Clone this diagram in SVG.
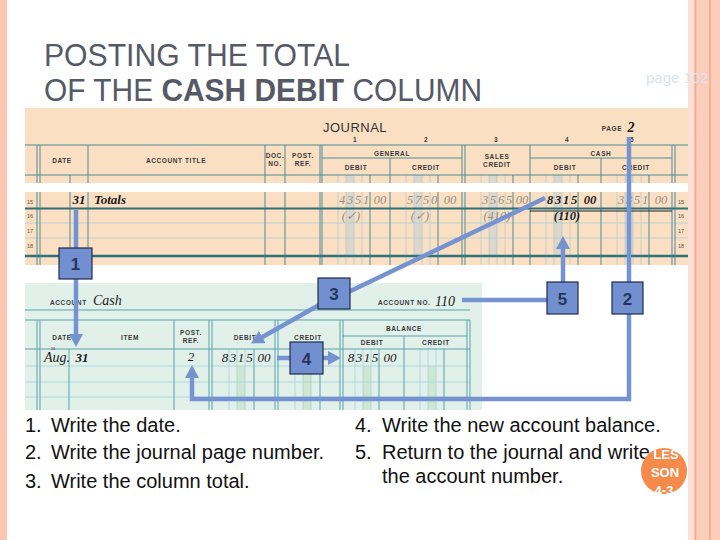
<svg xmlns="http://www.w3.org/2000/svg" width="720" height="540" viewBox="0 0 720 540">
<style>
.hd{font-family:"Liberation Sans",Arial,sans-serif;font-size:6.5px;font-weight:bold;letter-spacing:0.6px;fill:#3a3a3a;text-anchor:middle}
.sm{font-family:"Liberation Sans",Arial,sans-serif;font-size:5.5px;fill:#555;text-anchor:middle}
.fa{font-family:"Liberation Serif","DejaVu Serif",serif;font-style:italic;font-size:12.5px;fill:#9a8f80;text-anchor:middle}
.bk{font-family:"Liberation Serif","DejaVu Serif",serif;font-style:italic;font-weight:bold;font-size:12.5px;fill:#1b1b1b;text-anchor:middle}
.lt{font-family:"Liberation Serif","DejaVu Serif",serif;font-style:italic;font-size:13px;fill:#1b1b1b;text-anchor:middle}
.jl{stroke:#4d8c95;stroke-width:1}
.jg{stroke:#a9cfd4;stroke-width:0.8}
.ll{stroke:#5aa2ab;stroke-width:1}
.lg{stroke:#a3d3dc;stroke-width:0.8}
.con{fill:none;stroke:#7693D1;stroke-width:4.5}
.box rect{fill:#7290CF;stroke:#1f2c48;stroke-width:1.2}
.box text{font-family:"Liberation Sans",Arial,sans-serif;font-weight:bold;font-size:17px;fill:#26365a;text-anchor:middle}
.body{font-family:"Liberation Sans",Arial,sans-serif;font-size:20px;fill:#111}
.ttl{font-family:"Liberation Sans",Arial,sans-serif;font-size:32px;fill:#555a66}
</style>
<defs>
<marker id="ah" markerUnits="userSpaceOnUse" markerWidth="16" markerHeight="16" refX="5" refY="7" orient="auto">
<path d="M0,0 L13,7 L0,14 z" fill="#7693D1"/>
</marker>
</defs>
<rect width="720" height="540" fill="#ffffff"/>
<g id="frame">
<rect x="0" y="0" width="7" height="540" fill="#F8C6B3"/>
<rect x="688" y="0" width="32" height="540" fill="#FBCDBB"/>
<rect x="688" y="0" width="6" height="540" fill="#FCE0D5"/>
<line x1="695.5" y1="0" x2="695.5" y2="540" stroke="#F2A78B" stroke-width="1.5"/>
<line x1="710" y1="0" x2="710" y2="540" stroke="#F2A78B" stroke-width="1.5"/>
</g>
<g id="title">
<text class="ttl" x="44" y="66" textLength="306" lengthAdjust="spacingAndGlyphs">POSTING THE TOTAL</text>
<text class="ttl" x="44" y="101" textLength="438" lengthAdjust="spacingAndGlyphs">OF THE <tspan font-weight="bold">CASH DEBIT</tspan> COLUMN</text>
<text x="646" y="83" font-family="Liberation Sans,Arial,sans-serif" font-size="15" fill="#D8E4F0">page 102</text>
</g>
<g id="journal">
<rect x="25" y="108" width="663" height="157" fill="#FADFC3"/>
<g fill="#DCD6CB">
<rect x="346" y="175" width="8" height="81"/><rect x="414" y="175" width="8" height="81"/><rect x="489" y="175" width="8" height="81"/><rect x="554" y="175" width="8" height="81"/><rect x="625" y="175" width="8" height="81"/>
</g>
<g class="jg">
<line x1="338" y1="175" x2="338" y2="265"/><line x1="346" y1="175" x2="346" y2="265"/><line x1="354" y1="175" x2="354" y2="265"/><line x1="362" y1="175" x2="362" y2="265"/>
<line x1="406" y1="175" x2="406" y2="265"/><line x1="414" y1="175" x2="414" y2="265"/><line x1="422" y1="175" x2="422" y2="265"/><line x1="430" y1="175" x2="430" y2="265"/>
<line x1="481" y1="175" x2="481" y2="265"/><line x1="489" y1="175" x2="489" y2="265"/><line x1="497" y1="175" x2="497" y2="265"/><line x1="505" y1="175" x2="505" y2="265"/>
<line x1="546" y1="175" x2="546" y2="265"/><line x1="554" y1="175" x2="554" y2="265"/><line x1="562" y1="175" x2="562" y2="265"/><line x1="570" y1="175" x2="570" y2="265"/>
<line x1="617" y1="175" x2="617" y2="265"/><line x1="625" y1="175" x2="625" y2="265"/><line x1="633" y1="175" x2="633" y2="265"/><line x1="641" y1="175" x2="641" y2="265"/>
<line x1="25" y1="223" x2="688" y2="223"/><line x1="25" y1="238" x2="688" y2="238"/>
</g>
<g class="jl">
<line x1="25" y1="145" x2="688" y2="145"/><line x1="25" y1="175" x2="688" y2="175"/>
<line x1="322" y1="158" x2="462" y2="158"/><line x1="530" y1="158" x2="672" y2="158"/>
<line x1="37" y1="145" x2="37" y2="265"/><line x1="40" y1="145" x2="40" y2="265"/><line x1="88" y1="145" x2="88" y2="265"/>
<line x1="70" y1="175" x2="70" y2="265"/>
<line x1="265" y1="145" x2="265" y2="265"/><line x1="285" y1="145" x2="285" y2="265"/>
<line x1="320" y1="145" x2="320" y2="265"/><line x1="322" y1="145" x2="322" y2="265"/>
<line x1="390" y1="158" x2="390" y2="265"/>
<line x1="462" y1="145" x2="462" y2="265"/><line x1="465" y1="145" x2="465" y2="265"/>
<line x1="530" y1="145" x2="530" y2="265"/><line x1="601" y1="158" x2="601" y2="265"/>
<line x1="672" y1="145" x2="672" y2="265"/><line x1="675" y1="145" x2="675" y2="265"/>
<line x1="370" y1="175" x2="370" y2="265"/><line x1="438" y1="175" x2="438" y2="265"/><line x1="513" y1="175" x2="513" y2="265"/><line x1="578" y1="175" x2="578" y2="265"/><line x1="649" y1="175" x2="649" y2="265"/>
</g>
<rect x="25" y="183" width="663" height="9" fill="#ffffff"/>
<line x1="25" y1="208.5" x2="688" y2="208.5" stroke="#2f6f78" stroke-width="2"/>
<line x1="530" y1="211" x2="672" y2="211" stroke="#222" stroke-width="1.2"/>
<line x1="25" y1="256" x2="688" y2="256" stroke="#2f7380" stroke-width="2.5"/>
<text x="355" y="132" font-family="Liberation Sans,Arial,sans-serif" font-size="13" fill="#333" text-anchor="middle" letter-spacing="0.5">JOURNAL</text>
<text class="hd" x="612" y="131">PAGE</text>
<text class="bk" x="631" y="132" style="font-size:14px">2</text>
<text class="hd" x="355" y="142">1</text><text class="hd" x="426" y="142">2</text><text class="hd" x="496" y="142">3</text><text class="hd" x="567" y="142">4</text><text class="hd" x="632" y="142">5</text>
<text class="hd" x="62" y="163">DATE</text>
<text class="hd" x="176" y="163">ACCOUNT TITLE</text>
<text class="hd" x="275" y="158">DOC.</text><text class="hd" x="275" y="166">NO.</text>
<text class="hd" x="303" y="158">POST.</text><text class="hd" x="303" y="166">REF.</text>
<text class="hd" x="392" y="156">GENERAL</text>
<text class="hd" x="356" y="170">DEBIT</text><text class="hd" x="426" y="170">CREDIT</text>
<text class="hd" x="497" y="159">SALES</text><text class="hd" x="497" y="167">CREDIT</text>
<text class="hd" x="601" y="156">CASH</text>
<text class="hd" x="565" y="170">DEBIT</text><text class="hd" x="636" y="170">CREDIT</text>
<text class="sm" x="30" y="204">15</text><text class="sm" x="30" y="218">16</text><text class="sm" x="30" y="233">17</text><text class="sm" x="30" y="248">18</text>
<text class="sm" x="681" y="204">15</text><text class="sm" x="681" y="218">16</text><text class="sm" x="681" y="233">17</text><text class="sm" x="681" y="248">18</text>
<text class="bk" x="79" y="204" style="font-size:13px">31</text>
<text class="bk" x="94" y="204" style="font-size:13px;text-anchor:start">Totals</text>
<g class="fa">
<text x="342" y="204">4</text><text x="350" y="204">3</text><text x="358" y="204">5</text><text x="366" y="204">1</text><text x="380" y="204">00</text>
<text x="410" y="204">5</text><text x="418" y="204">7</text><text x="426" y="204">5</text><text x="434" y="204">0</text><text x="450" y="204">00</text>
<text x="485" y="204">3</text><text x="493" y="204">5</text><text x="501" y="204">6</text><text x="509" y="204">5</text><text x="522" y="204">00</text>
<text x="621" y="204">3</text><text x="629" y="204">3</text><text x="637" y="204">5</text><text x="645" y="204">1</text><text x="661" y="204">00</text>
<text x="351" y="220">(✓)</text><text x="420" y="220">(✓)</text><text x="497" y="220">(410)</text>
</g>
<g class="bk">
<text x="550" y="204">8</text><text x="558" y="204">3</text><text x="566" y="204">1</text><text x="574" y="204">5</text><text x="590" y="204">00</text>
<text x="567" y="220">(110)</text>
</g>
</g>
<g id="ledger">
<rect x="25" y="283" width="457" height="127" fill="#E2F0EA"/>
<g fill="#CFE6D3">
<rect x="237" y="366" width="8" height="44"/><rect x="303" y="366" width="8" height="44"/><rect x="363" y="366" width="8" height="44"/><rect x="428" y="366" width="8" height="44"/>
</g>
<g class="lg">
<line x1="25" y1="366" x2="470" y2="366"/><line x1="25" y1="382" x2="470" y2="382"/><line x1="25" y1="397" x2="470" y2="397"/>
<line x1="229" y1="349" x2="229" y2="410"/><line x1="237" y1="349" x2="237" y2="410"/><line x1="245" y1="349" x2="245" y2="410"/>
<line x1="295" y1="349" x2="295" y2="410"/><line x1="303" y1="349" x2="303" y2="410"/><line x1="311" y1="349" x2="311" y2="410"/>
<line x1="355" y1="349" x2="355" y2="410"/><line x1="363" y1="349" x2="363" y2="410"/><line x1="371" y1="349" x2="371" y2="410"/>
<line x1="420" y1="349" x2="420" y2="410"/><line x1="428" y1="349" x2="428" y2="410"/><line x1="436" y1="349" x2="436" y2="410"/>
</g>
<g class="ll">
<line x1="25" y1="310" x2="470" y2="310"/><line x1="25" y1="320" x2="470" y2="320"/><line x1="25" y1="349" x2="470" y2="349"/>
<line x1="343" y1="336" x2="467" y2="336"/>
<line x1="37" y1="320" x2="37" y2="410"/><line x1="40" y1="320" x2="40" y2="410"/><line x1="69" y1="349" x2="69" y2="410"/>
<line x1="174" y1="320" x2="174" y2="410"/><line x1="209" y1="320" x2="209" y2="410"/><line x1="212" y1="320" x2="212" y2="410"/>
<line x1="275" y1="320" x2="275" y2="410"/><line x1="278" y1="320" x2="278" y2="410"/>
<line x1="340" y1="320" x2="340" y2="410"/><line x1="343" y1="320" x2="343" y2="410"/>
<line x1="404" y1="336" x2="404" y2="410"/>
<line x1="467" y1="320" x2="467" y2="410"/><line x1="470" y1="320" x2="470" y2="410"/>
<line x1="254" y1="349" x2="254" y2="410"/><line x1="320" y1="349" x2="320" y2="410"/><line x1="379" y1="349" x2="379" y2="410"/><line x1="444" y1="349" x2="444" y2="410"/>
</g>
<text class="hd" x="50" y="305" style="text-anchor:start">ACCOUNT</text>
<text class="lt" x="93" y="305" style="font-size:14px;text-anchor:start">Cash</text>
<text class="hd" x="378" y="305" style="text-anchor:start">ACCOUNT NO.</text>
<text class="lt" x="445" y="306" style="font-size:14px">110</text>
<text class="hd" x="62" y="340">DATE</text>
<text class="hd" x="130" y="340">ITEM</text>
<text class="hd" x="191" y="335">POST.</text><text class="hd" x="191" y="343">REF.</text>
<text class="hd" x="245" y="340">DEBIT</text>
<text class="hd" x="308" y="340">CREDIT</text>
<text class="hd" x="404" y="331">BALANCE</text>
<text class="hd" x="372" y="345">DEBIT</text><text class="hd" x="436" y="345">CREDIT</text>
<text x="53" y="350" font-family="Liberation Serif,serif" font-size="4.5" fill="#333" text-anchor="middle">20</text>
<text class="lt" x="57" y="362" style="font-size:14px">Aug.</text>
<text class="bk" x="82" y="362" style="font-size:13px">31</text>
<text class="lt" x="191" y="361">2</text>
<text class="lt" x="225" y="362">8</text><text class="lt" x="233" y="362">3</text><text class="lt" x="241" y="362">1</text><text class="lt" x="249.5" y="362">5</text><text class="lt" x="264" y="362">00</text>
<text class="lt" x="351" y="362">8</text><text class="lt" x="359" y="362">3</text><text class="lt" x="367" y="362">1</text><text class="lt" x="375" y="362">5</text><text class="lt" x="390" y="362">00</text>
</g>
<g id="connectors">
<path class="con" d="M76,210 V339" marker-end="url(#ah)"/>
<path class="con" d="M629,137 V399 H192 V373" marker-end="url(#ah)"/>
<path class="con" d="M545,198 L340,296"/>
<path class="con" d="M328,300 L258,339.5" marker-end="url(#ah)"/>
<path class="con" d="M277,358 H333" marker-end="url(#ah)"/>
<path class="con" d="M462,300 H563 V244" marker-end="url(#ah)"/>
</g>
<g id="box1" class="box"><rect x="59" y="248" width="33" height="31"/><text x="75.5" y="270">1</text></g>
<g id="box2" class="box"><rect x="612" y="282" width="31" height="32"/><text x="627.5" y="304.5">2</text></g>
<g id="box3" class="box"><rect x="318" y="278" width="32" height="31"/><text x="334" y="300">3</text></g>
<g id="box4" class="box"><rect x="290" y="342" width="33" height="32"/><text x="306.5" y="364.5">4</text></g>
<g id="box5" class="box"><rect x="547" y="282" width="31" height="32"/><text x="562.5" y="304.5">5</text></g>
<g id="steps">
<text class="body" x="25" y="432">1.</text><text class="body" x="51" y="432">Write the date.</text>
<text class="body" x="25" y="459">2.</text><text class="body" x="51" y="459">Write the journal page number.</text>
<text class="body" x="25" y="488">3.</text><text class="body" x="51" y="488">Write the column total.</text>
<text class="body" x="355" y="432">4.</text><text class="body" x="382" y="432">Write the new account balance.</text>
<text class="body" x="355" y="459">5.</text><text class="body" x="382" y="459">Return to the journal and write</text>
<text class="body" x="382" y="483">the account number.</text>
</g>
<g id="badge">
<circle cx="664" cy="471" r="23" fill="#F58A4B"/>
<g font-family="Liberation Sans,Arial,sans-serif" font-weight="bold" font-size="13" fill="#ffffff" text-anchor="middle">
<text x="666" y="459">LES</text><text x="665" y="477">SON</text><text x="664" y="495">4-3</text>
</g>
</g>
</svg>
